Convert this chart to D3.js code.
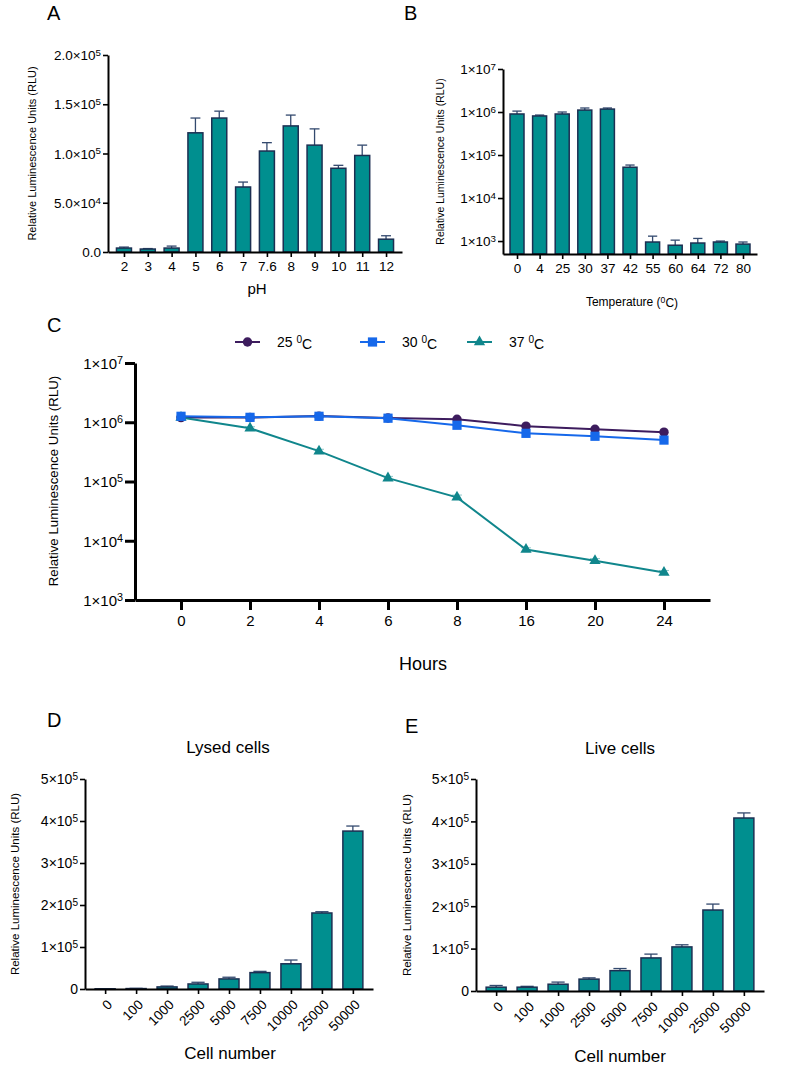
<!DOCTYPE html>
<html><head><meta charset="utf-8">
<script src="https://cdn.jsdelivr.net/npm/d3@7"></script>
<style>body{margin:0;background:#fff} text{font-family:"Liberation Sans",Arial,sans-serif;fill:#000}</style>
</head><body>
<svg id="fig" width="787" height="1073"></svg>
<script>
// ---------- DATA ----------
const phCats = ["2","3","4","5","6","7","7.6","8","9","10","11","12"];
const phMean = [4000,3000,4000,121000,136000,66000,102500,128000,108500,85000,98000,13000];
const phErr  = [1000,500,2000,15000,7000,5000,8500,11000,16500,3000,10500,3500];
const phTicks = [0,5e4,1e5,1.5e5,2e5];

const tempCats = ["0","4","25","30","37","42","55","60","64","72","80"];
const tempMean = [900000,810000,900000,1110000,1170000,52000,950,800,900,950,850];
const tempErr  = [150000,40000,100000,130000,70000,6500,350,250,250,50,100];
const tempTicks = [1e3,1e4,1e5,1e6,1e7];

const hourCats = ["0","2","4","6","8","16","20","24"];
const s25 = [1200000,1200000,1270000,1180000,1120000,860000,760000,680000];
const s30 = [1260000,1210000,1260000,1170000,890000,650000,580000,500000];
const s37 = [1200000,790000,325000,114000,54000,7100,4600,2900];
const e37 = [60000,50000,25000,8000,5000,500,400,250];
const hourTicks = [1e3,1e4,1e5,1e6,1e7];
const seriesNames = ["25 ⁰C","30 ⁰C","37 ⁰C"];

const cellCats = ["0","100","1000","2500","5000","7500","10000","25000","50000"];
const lysedMean = [500,1000,5000,12000,24000,39000,60000,181000,376000];
const lysedErr  = [300,500,2000,4000,4000,3000,9000,3000,12000];
const liveMean  = [9000,9000,16000,28000,48000,78000,104000,191000,408000];
const liveErr   = [4000,2000,5000,3000,5000,9000,5000,14000,12000];
const cellTicks = [0,1e5,2e5,3e5,4e5,5e5];

// ---------- STYLE ----------
const BAR_FILL = "#008f8f", BAR_STROKE = "#1c2f52", ERR = "#33496e";
const COL25 = "#3d1c5e", COL30 = "#1668ea", COL37 = "#10868c";
const LATO = "Lato, 'Open Sans', sans-serif";

const svg = d3.select("#fig");

function sci(sel, dec) {
  sel.each(function(d){
    const t = d3.select(this); t.text(null);
    if (d === 0) { t.text(dec ? (0).toFixed(dec) : "0"); return; }
    const ee = Math.floor(Math.log10(d) + 1e-9);
    const m = d / Math.pow(10, ee);
    t.append("tspan").text(m.toFixed(dec) + "×10");
    t.append("tspan").attr("dy","-0.45em").attr("font-size","0.72em").text(ee);
  });
}

function barPanel(o) {
  const g = svg.append("g");
  const x = d3.scalePoint().domain(o.cats).range([o.x0, o.x1]).padding(o.pad);
  const y = (o.log ? d3.scaleLog() : d3.scaleLinear()).domain(o.yDomain).range([o.yb, o.yt]);
  const eg = g.append("g");
  o.cats.forEach((c,i) => {
    const top = y(o.mean[i] + o.err[i]);
    eg.append("line").attr("x1",x(c)).attr("x2",x(c)).attr("y1",y(o.mean[i])).attr("y2",top)
      .attr("stroke",ERR).attr("stroke-width",1.3);
    eg.append("line").attr("x1",x(c)-o.bw*0.33).attr("x2",x(c)+o.bw*0.33).attr("y1",top).attr("y2",top)
      .attr("stroke",ERR).attr("stroke-width",1.3);
  });
  g.selectAll("rect.bar").data(o.cats).join("rect").attr("class","bar")
    .attr("x", d => x(d) - o.bw/2).attr("width", o.bw)
    .attr("y", (d,i) => y(o.mean[i])).attr("height", (d,i) => Math.max(0.5, o.yb - y(o.mean[i])))
    .attr("fill", BAR_FILL).attr("stroke", BAR_STROKE).attr("stroke-width", 1.5);
  const ya = g.append("g").attr("transform",`translate(${o.x0},0)`)
    .call(d3.axisLeft(y).tickValues(o.ticks).tickSize(5).tickSizeOuter(0).tickPadding(2));
  ya.selectAll("text").attr("font-size", o.ytFont).attr("dy","0.35em").call(sci, o.dec);
  const xa = g.append("g").attr("transform",`translate(0,${o.yb})`)
    .call(d3.axisBottom(x).tickSize(5).tickSizeOuter(0).tickPadding(4));
  xa.selectAll("text").attr("font-size", o.xtFont);
  if (o.rotate) {
    xa.selectAll("text").attr("text-anchor","end").attr("x",0).attr("y",0).attr("dy","0.35em")
      .attr("transform","translate(4,13) rotate(-45)");
  }
  [ya, xa].forEach(a => {
    a.select(".domain").attr("stroke","#000").attr("stroke-width",2);
    a.selectAll(".tick line").attr("stroke","#000").attr("stroke-width",1.6);
    a.selectAll("text").attr("font-family","'Liberation Sans',Arial,sans-serif").attr("fill","#000");
  });
  g.append("text").attr("transform",`translate(${o.ylX},${(o.yb+o.yt)/2}) rotate(-90)`)
    .attr("text-anchor","middle").attr("font-size",o.ylFont).text("Relative Luminescence Units (RLU)");
  return {x, y, g};
}

// Panel A
barPanel({cats:phCats, mean:phMean, err:phErr, ticks:phTicks, x0:108, x1:402, pad:0.67,
  yb:252, yt:55, yDomain:[0,2e5], bw:15, dec:1, ytFont:13.5, xtFont:13.5, ylX:36, ylFont:11});
svg.append("text").attr("x",257).attr("y",294).attr("text-anchor","middle").attr("font-size",15).text("pH");

// Panel B
barPanel({cats:tempCats, mean:tempMean, err:tempErr, ticks:tempTicks, x0:503, x1:757, pad:0.62, log:true,
  yb:254, yt:69, yDomain:[500,1e7], bw:14, dec:0, ytFont:13.5, xtFont:13.5, ylX:444, ylFont:10.5});
{
  const t = svg.append("text").attr("x",632).attr("y",306).attr("text-anchor","middle").attr("font-size",12);
  t.append("tspan").text("Temperature (");
  t.append("tspan").attr("dy","-0.4em").attr("font-size","0.72em").text("0");
  t.append("tspan").attr("dy","0.4em").text("C)");
}

// Panel D
barPanel({cats:cellCats, mean:lysedMean, err:lysedErr, ticks:cellTicks, x0:85, x1:373, pad:0.65,
  yb:989, yt:779, yDomain:[0,5e5], bw:20, dec:0, ytFont:14, xtFont:13.5, ylX:19, ylFont:11.5, rotate:true});
// Panel E
barPanel({cats:cellCats, mean:liveMean, err:liveErr, ticks:cellTicks, x0:476, x1:764, pad:0.65,
  yb:991, yt:779, yDomain:[0,5e5], bw:20, dec:0, ytFont:14, xtFont:13.5, ylX:411, ylFont:11.5, rotate:true});

svg.append("text").attr("x",228).attr("y",753).attr("text-anchor","middle").attr("font-size",17).attr("font-family",LATO).text("Lysed cells");
svg.append("text").attr("x",620).attr("y",754).attr("text-anchor","middle").attr("font-size",17).attr("font-family",LATO).text("Live cells");
svg.append("text").attr("x",230).attr("y",1059).attr("text-anchor","middle").attr("font-size",17).attr("font-family",LATO).text("Cell number");
svg.append("text").attr("x",620).attr("y",1062).attr("text-anchor","middle").attr("font-size",17).attr("font-family",LATO).text("Cell number");

// Panel C
{
  const g = svg.append("g");
  const x = d3.scalePoint().domain(hourCats).range([135,710]).padding(0.667);
  const y = d3.scaleLog().domain([1e3,1e7]).range([600,363]);
  const ya = g.append("g").attr("transform","translate(135,0)")
    .call(d3.axisLeft(y).tickValues(hourTicks).tickSize(10).tickSizeOuter(0).tickPadding(2));
  ya.selectAll("text").attr("font-size",15).attr("dy","0.35em").call(sci, 0);
  const xa = g.append("g").attr("transform","translate(0,600)")
    .call(d3.axisBottom(x).tickSize(10).tickSizeOuter(0).tickPadding(5));
  xa.selectAll("text").attr("font-size",15);
  [ya, xa].forEach(a => {
    a.select(".domain").attr("stroke","#000").attr("stroke-width",3);
    a.selectAll(".tick line").attr("stroke","#000").attr("stroke-width",3);
    a.selectAll("text").attr("font-family","'Liberation Sans',Arial,sans-serif").attr("fill","#000");
  });
  g.append("text").attr("transform","translate(58,481) rotate(-90)").attr("text-anchor","middle")
    .attr("font-size",13.3).text("Relative Luminescence Units (RLU)");
  g.append("text").attr("x",423).attr("y",670).attr("text-anchor","middle").attr("font-size",18)
    .attr("font-family",LATO).text("Hours");

  const line = d3.line().x((d,i)=>x(hourCats[i])).y(d=>y(d));
  hourCats.forEach((c,i)=>{
    const t = y(s37[i]+e37[i]), b = y(s37[i]-e37[i]);
    g.append("line").attr("x1",x(c)).attr("x2",x(c)).attr("y1",b).attr("y2",t).attr("stroke","#8fc8ca").attr("stroke-width",1);
    g.append("line").attr("x1",x(c)-5).attr("x2",x(c)+5).attr("y1",t).attr("y2",t).attr("stroke","#8fc8ca").attr("stroke-width",1);
  });
  const defs = [
    {data:s25, col:COL25, sym:d3.symbolCircle, size:70},
    {data:s30, col:COL30, sym:d3.symbolSquare, size:85},
    {data:s37, col:COL37, sym:d3.symbolTriangle, size:55}
  ];
  [0,2,1].forEach(k => {
    const s = defs[k];
    g.append("path").attr("d", line(s.data)).attr("fill","none").attr("stroke",s.col).attr("stroke-width",2);
    g.selectAll(null).data(s.data).join("path")
      .attr("transform",(d,i)=>`translate(${x(hourCats[i])},${y(d)})`)
      .attr("d", d3.symbol(s.sym, s.size)).attr("fill", s.col);
  });
  const lx = [235,360,467];
  defs.forEach((s,k)=>{
    const lg = g.append("g").attr("transform",`translate(${lx[k]},342)`);
    lg.append("line").attr("x1",0).attr("x2",25).attr("stroke",s.col).attr("stroke-width",2);
    lg.append("path").attr("transform","translate(12.5,0)").attr("d",d3.symbol(s.sym,s.size)).attr("fill",s.col);
    const t = lg.append("text").attr("x",42).attr("y",5).attr("font-size",14);
    const parts = seriesNames[k].split(" ");
    t.append("tspan").text(parts[0]+" ");
    t.append("tspan").attr("dy","-0.4em").attr("font-size","0.72em").text("0");
    t.append("tspan").attr("dy","0.4em").text("C");
  });
}

// Panel letters
[["A",47,20],["B",404,20],["C",47,332],["D",47,727],["E",405,733]].forEach(([l,x,y])=>{
  svg.append("text").attr("x",x).attr("y",y).attr("font-size",20).attr("font-family",LATO).text(l);
});
</script>
</body></html>
